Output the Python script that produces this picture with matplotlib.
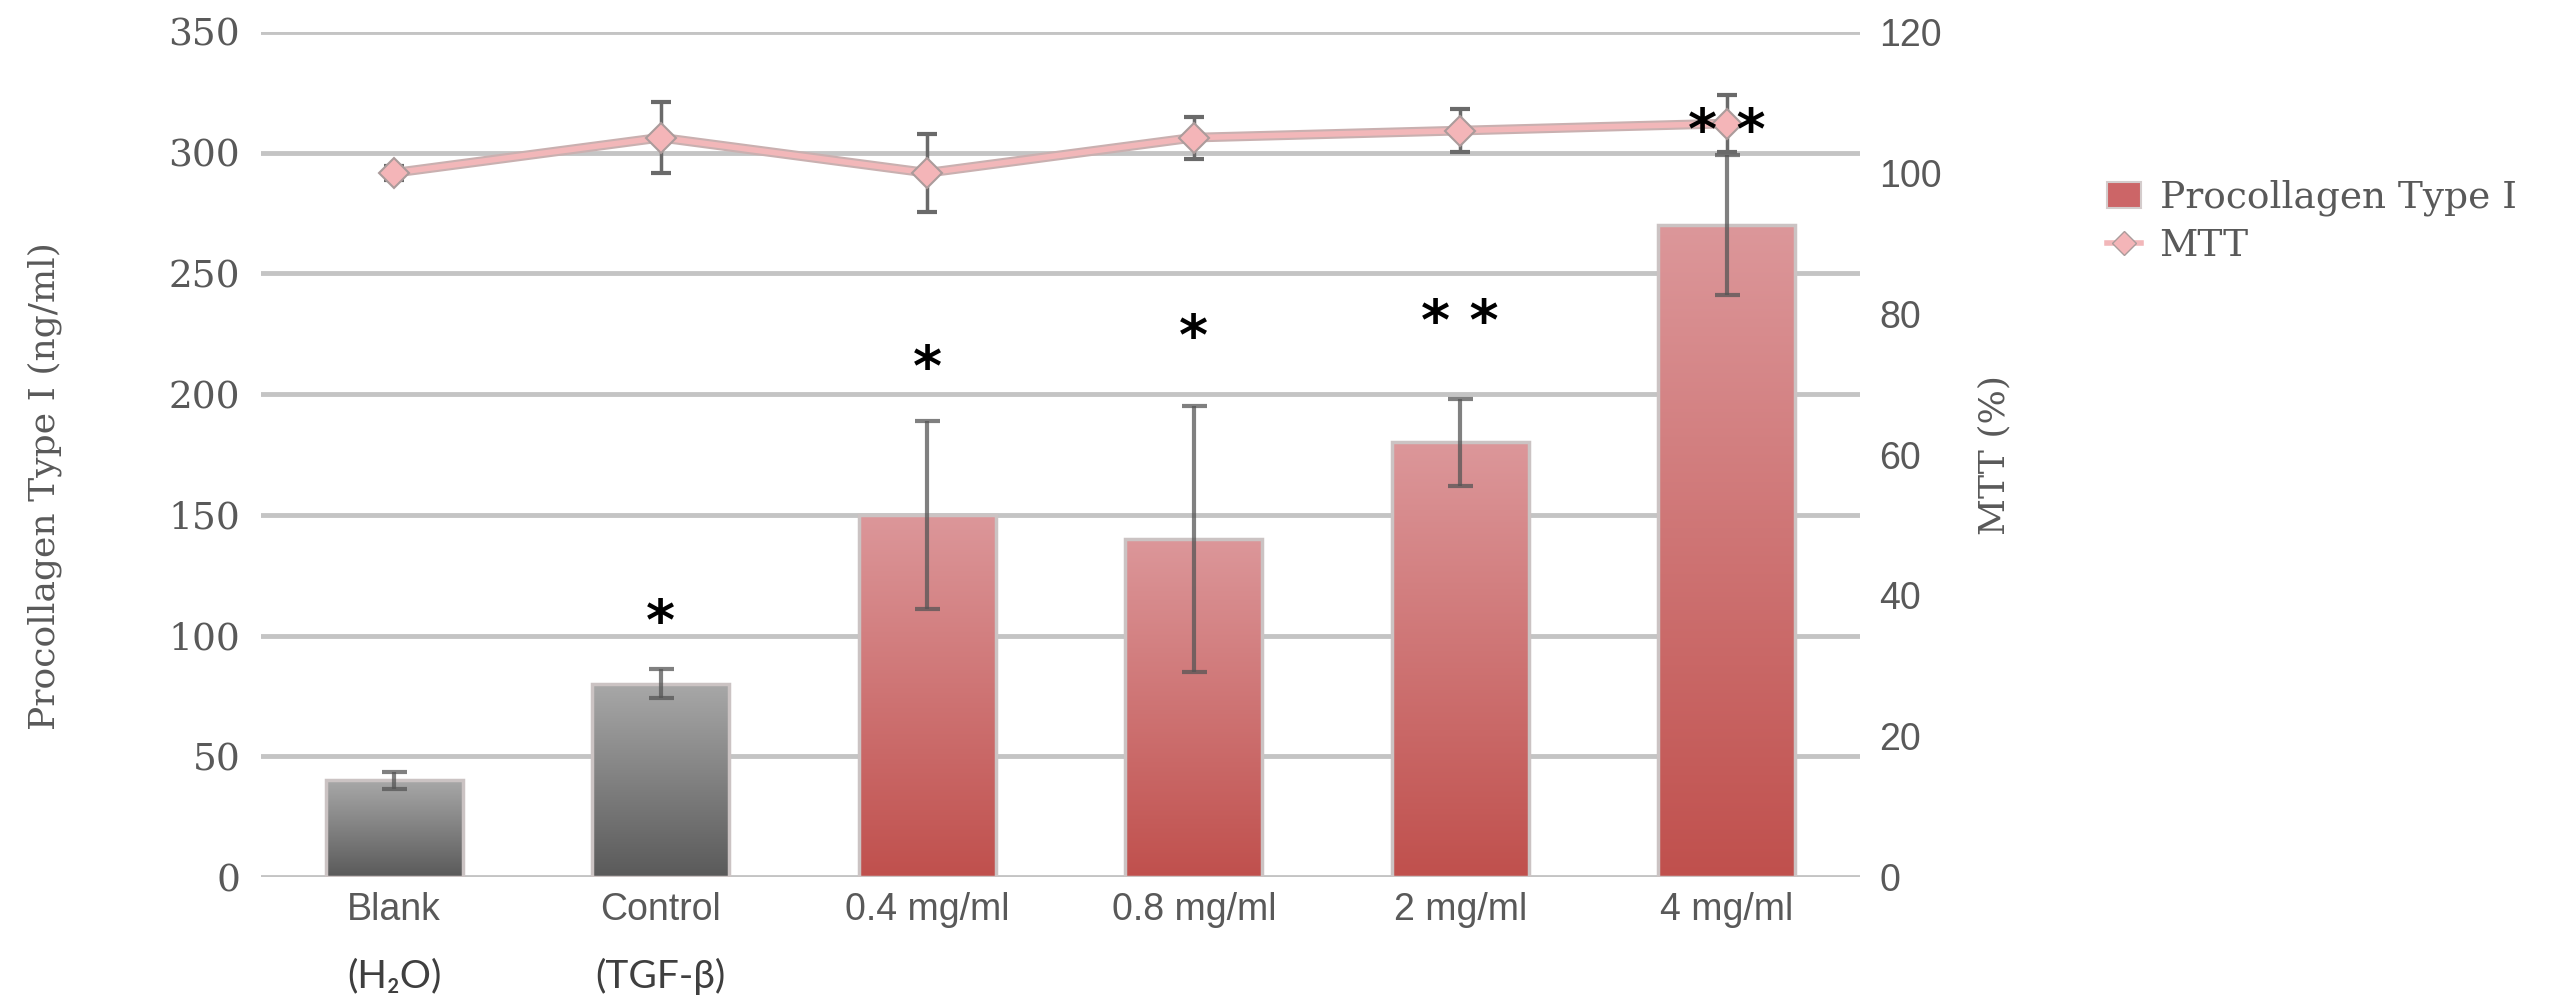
import numpy as np
import matplotlib
matplotlib.use('Agg')
import matplotlib.pyplot as plt
import matplotlib.patheffects as pe
import matplotlib.transforms as mtransforms
from matplotlib.colors import LinearSegmentedColormap
from matplotlib.lines import Line2D
from matplotlib.patches import Patch

# data
categories = ['Blank', 'Control', '0.4 mg/ml', '0.8 mg/ml', '2 mg/ml', '4 mg/ml']
sublabels = ['(H\u2082O)', '(TGF-\u03b2)', '', '', '', '']
procollagen = [40, 80, 150, 140, 180, 270]          # ng/ml, left axis
procollagen_err = [3.5, 6, 39, 55, 18, 29]
mtt = [100, 105, 100, 105, 106, 107]                # %, right axis
mtt_err = [1, 5, 5.5, 3, 3, 4]
significance = ['', '*', '*', '*', '* *', '* *']
sig_level = [0, 105, 210, 223, 229, 308]            # ng/ml height of the star marks
is_reference = [True, True, False, False, False, False]

left_ticks = list(range(0, 351, 50))
right_ticks = list(range(0, 121, 20))

TICK_GREY = '#595959'
SERIF = 'DejaVu Serif'
SANS = 'Liberation Sans'

grey_cmap = LinearSegmentedColormap.from_list('grey_bar', ['#5a5a5a', '#a8a8a8'])
red_cmap = LinearSegmentedColormap.from_list('red_bar', ['#c0504d', '#dc979a'])

W, H = 2562, 997
fig = plt.figure(figsize=(W / 100, H / 100), dpi=100)
ax = fig.add_axes([261 / W, 1 - 877 / H, (1860 - 261) / W, 845 / H])

x = np.arange(len(categories))

# bars: outline patch on top, gradient image clipped to it underneath
bars = ax.bar(x, procollagen, width=0.515, color='none',
              edgecolor='#cbc3c3', linewidth=2.5, zorder=3)
grad = np.linspace(1, 0, 256).reshape(-1, 1)
for bar, ref in zip(bars, is_reference):
    x0, w, h = bar.get_x(), bar.get_width(), bar.get_height()
    im = ax.imshow(grad, cmap=grey_cmap if ref else red_cmap, aspect='auto',
                   extent=(x0, x0 + w, 0, h), origin='upper', zorder=2)
    im.set_clip_path(bar)

ax.errorbar(x, procollagen, yerr=procollagen_err, fmt='none', ecolor='#555555',
            alpha=0.75, elinewidth=3, capsize=9, capthick=3, zorder=4)

ax.set_xlim(-0.5, len(categories) - 0.5)
ax.set_ylim(0, 350)
ax.set_yticks(left_ticks)
ax.set_yticklabels([str(t) for t in left_ticks], fontfamily=SERIF,
                   fontsize=27, color=TICK_GREY)
ax.set_xticks(x)
ax.set_xticklabels(categories, fontfamily=SANS, fontsize=27, color=TICK_GREY)
ax.tick_params(axis='y', length=0, pad=15)
ax.tick_params(axis='x', length=0, pad=11)
ax.yaxis.grid(True, color='#c4c4c4', linewidth=3.5)
ax.set_axisbelow(True)
for sp in ax.spines.values():
    sp.set_visible(False)

# second line under the first two category labels
trans = mtransforms.blended_transform_factory(ax.transData, ax.transAxes)
for xi, s in zip(x, sublabels):
    if s:
        ax.text(xi, -0.118, s, transform=trans, ha='center', va='center',
                fontsize=28, family=['Lato', 'DejaVu Sans'], color='#3f3f3f')

# MTT on the right axis
ax2 = ax.twinx()
ax2.set_ylim(0, 120)
ax2.set_yticks(right_ticks)
ax2.set_yticklabels([str(t) for t in right_ticks], fontfamily=SANS,
                    fontsize=27, color=TICK_GREY)
ax2.tick_params(axis='y', length=0, pad=14)
for sp in ax2.spines.values():
    sp.set_visible(False)

ax2.errorbar(x, mtt, yerr=mtt_err, fmt='none', ecolor='#6a6a6a',
             elinewidth=2.5, capsize=7, capthick=3, zorder=2)
ax2.plot(x, mtt, color='#f2b7b9', linewidth=4, zorder=3,
         path_effects=[pe.Stroke(linewidth=7, foreground='#c9b0b0'), pe.Normal()])
ax2.plot(x, mtt, linestyle='none', marker='D', markersize=15,
         markerfacecolor='#f4b5b8', markeredgecolor='#ab9b9b',
         markeredgewidth=1.5, zorder=4)

# significance marks, placed in ng/ml units but drawn above the MTT line
for xi, mark, lvl in zip(x, significance, sig_level):
    if mark:
        ax2.text(xi, lvl, mark, transform=ax.transData, ha='center', va='center',
                 fontsize=40, fontweight='bold', color='black', zorder=6)

# axis titles
fig.text(45 / W, 1 - 486 / H, 'Procollagen Type I (ng/ml)', rotation=90,
         ha='center', va='center', fontfamily=SERIF, fontsize=26, color=TICK_GREY)
fig.text(1994 / W, 1 - 455 / H, 'MTT (%)', rotation=90,
         ha='center', va='center', fontfamily=SERIF, fontsize=26, color=TICK_GREY)

handles = [
    Patch(facecolor='#cc6567', edgecolor='#d4cccc', linewidth=1.5),
    Line2D([], [], color='#f2b7b9', linewidth=4, marker='D', markersize=12,
           markerfacecolor='#f4b5b8', markeredgecolor='#ab9b9b'),
]
fig.legend(handles, ['Procollagen Type I', 'MTT'], loc='upper left',
           bbox_to_anchor=(2107 / W, 1 - 180 / H), frameon=False,
           borderpad=0, borderaxespad=0, handlelength=0.9, handletextpad=0.5,
           labelspacing=0.3, prop={'family': SERIF, 'size': 27},
           labelcolor=TICK_GREY)

fig.savefig('out.png', dpi=100, facecolor='white')
